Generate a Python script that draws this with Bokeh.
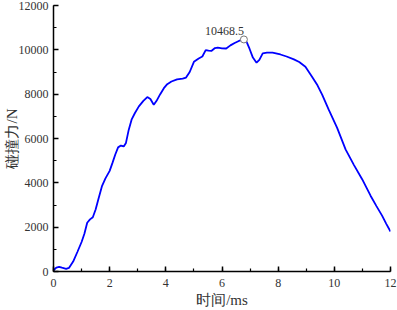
from bokeh.plotting import figure
from bokeh.models import Range1d, ColumnDataSource
from bokeh.core.properties import value
from bokeh.embed import file_html
from bokeh.resources import INLINE

# time (ms)
t_ms = [0, 0.1, 0.2, 0.3, 0.45, 0.55, 0.7, 0.85, 1.0, 1.1, 1.2, 1.3, 1.4, 1.5, 1.6, 1.73, 1.85,
        2.0, 2.1, 2.2, 2.3, 2.4, 2.5, 2.58, 2.68, 2.78, 2.9, 3.04, 3.2, 3.34, 3.45, 3.57, 3.67,
        3.8, 3.93, 4.05, 4.2, 4.4, 4.6, 4.72, 4.85, 5.0, 5.17, 5.3, 5.42, 5.52, 5.62, 5.75, 5.85,
        6.0, 6.15, 6.3, 6.45, 6.6, 6.78, 6.88, 6.98, 7.1, 7.23, 7.33, 7.45, 7.6, 7.8, 8.08, 8.3,
        8.56, 8.75, 8.97, 9.2, 9.4, 9.57, 9.8, 10.1, 10.4, 10.7, 10.99, 11.29, 11.5, 11.7, 11.85, 12.0]
# collision force (N)
force_n = [50, 180, 210, 170, 120, 160, 450, 880, 1330, 1700, 2200, 2350, 2450, 2800, 3270, 3865, 4200,
           4540, 4900, 5280, 5600, 5680, 5640, 5800, 6400, 6850, 7150, 7450, 7700, 7870, 7780, 7520, 7700,
           8000, 8270, 8450, 8570, 8670, 8700, 8750, 9000, 9460, 9610, 9700, 9990, 9960, 9950, 10080, 10100,
           10070, 10060, 10200, 10310, 10400, 10468.5, 10350, 10050, 9650, 9420, 9550, 9840, 9870, 9870, 9790, 9700,
           9570, 9450, 9240, 8800, 8400, 7970, 7300, 6480, 5510, 4800, 4165, 3420, 2950, 2520, 2150, 1805]

peak_t = [6.78]
peak_f = [10468.5]
peak_text = ["10468.5"]

x_label = "时间/ms"
y_label = "碰撞力/N"

SERIF = "serif"

p = figure(width=397, height=310, output_backend="svg", toolbar_location=None,
           x_range=Range1d(0, 12), y_range=Range1d(0, 12000),
           min_border_left=53, min_border_right=7, min_border_top=5, min_border_bottom=37)
p.outline_line_color = None
p.xgrid.visible = False
p.ygrid.visible = False

for ax in (p.xaxis[0], p.yaxis[0]):
    ax.axis_line_width = 1.5
    ax.axis_line_color = "black"
    ax.major_tick_in = 5
    ax.major_tick_out = 0
    ax.minor_tick_in = 3
    ax.minor_tick_out = 0
    ax.major_tick_line_width = 1.5
    ax.minor_tick_line_width = 1.2
    ax.major_label_text_font = SERIF
    ax.major_label_text_font_size = "12px"
    ax.major_label_text_color = "#333333"
    ax.axis_label_text_font = SERIF
    ax.axis_label_text_font_size = "15px"
    ax.axis_label_text_font_style = "normal"
    ax.axis_label_text_color = "#333333"

p.xaxis[0].ticker.desired_num_ticks = 6
p.xaxis[0].ticker.num_minor_ticks = 2
p.yaxis[0].ticker.num_minor_ticks = 2
p.xaxis.major_label_standoff = 7
p.yaxis.major_label_standoff = 5
p.xaxis.axis_label = x_label
p.yaxis.axis_label = y_label
p.xaxis.axis_label_standoff = 2
p.yaxis.axis_label_standoff = -4

src = ColumnDataSource(dict(t=t_ms, f=force_n))
p.line("t", "f", source=src, line_color="#0000ff", line_width=1.8)

psrc = ColumnDataSource(dict(t=peak_t, f=peak_f, s=peak_text))
p.scatter("t", "f", source=psrc, size=7, fill_color="white", line_color="#777777", line_width=1)
p.text("t", "f", text="s", source=psrc, text_align="right", text_baseline="bottom",
       y_offset=-4, x_offset=0, text_font_size="12px", text_color="#333333",
       text_font=value(SERIF))

open("out.html", "w").write(file_html(p, INLINE))
